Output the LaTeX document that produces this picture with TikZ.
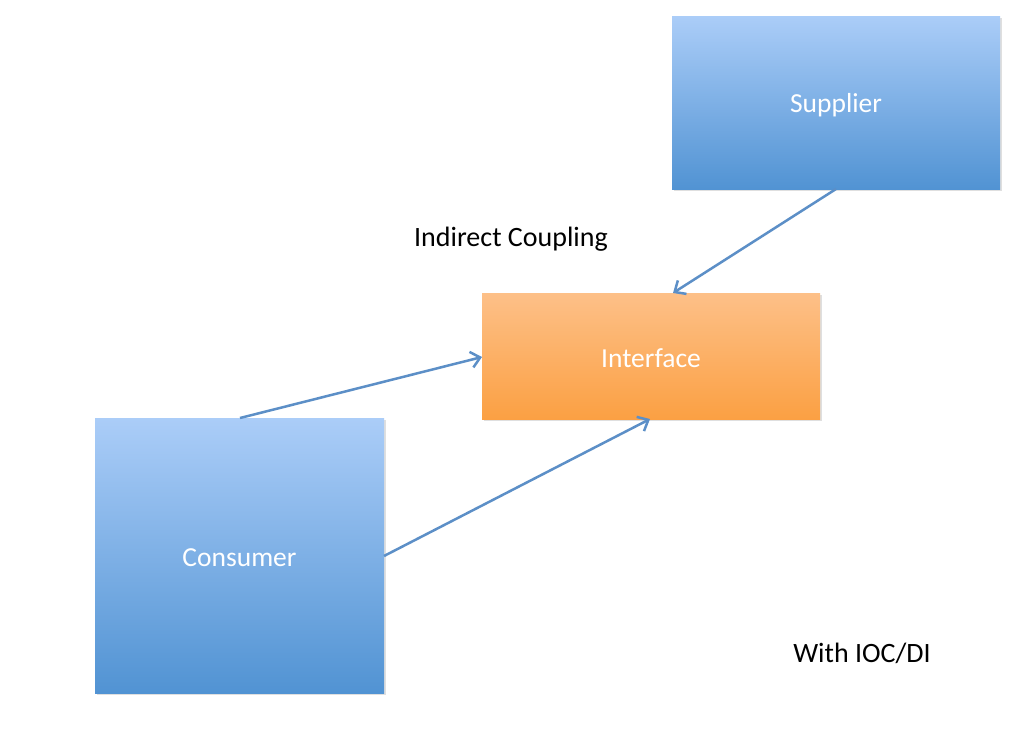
\documentclass[tikz,border=0pt]{standalone}
\usepackage{fontspec}
\setmainfont{Carlito}
\usetikzlibrary{arrows.meta,shadows}
\begin{document}
\begin{tikzpicture}[x=1pt,y=-1pt,
  bluebox/.style={draw=none,top color=bluetop,bottom color=bluebot,
    drop shadow={shadow xshift=1.5pt,shadow yshift=-2pt,opacity=0.25}},
  orangebox/.style={draw=none,top color=orangetop,bottom color=orangebot,
    drop shadow={shadow xshift=1.5pt,shadow yshift=-2pt,opacity=0.25}},
  boxtext/.style={text=white,font=\fontsize{27.5}{32}\selectfont},
  conn/.style={draw=linecol,line width=2.5pt,-{Straight Barb[length=9pt,width=16pt,line width=2.5pt]}},
  lbl/.style={text=black,font=\fontsize{28}{33}\selectfont}]
\definecolor{bluetop}{HTML}{ABCDF8}
\definecolor{bluebot}{HTML}{5193D3}
\definecolor{orangetop}{HTML}{FDC088}
\definecolor{orangebot}{HTML}{FBA043}
\definecolor{linecol}{HTML}{5C8FC7}
\useasboundingbox[fill=white] (0,0) rectangle (1024,745);
\path[bluebox] (672,16) rectangle (1000,189);
\node[boxtext] (sup) at (836,105) {Supplier};
\coordinate (supB) at (836,189);
\path[orangebox] (482,293) rectangle (820,419);
\node[boxtext] (int) at (651,358) {Interface};
\coordinate (intT) at (673,293);
\coordinate (intL) at (482,357);
\coordinate (intB) at (650,419);
\path[bluebox] (95,418) rectangle (384,693);
\node[boxtext] (con) at (239.5,558) {Consumer};
\coordinate (conT) at (240,418);
\coordinate (conR) at (384,556);
\node[lbl] (ic) at (511,239) {Indirect Coupling};
\node[lbl] (ioc) at (862,653) {With IOC/DI};
\draw[conn] (supB) -- (intT);
\draw[conn] (conT) -- (intL);
\draw[conn] (conR) -- (intB);
\end{tikzpicture}
\end{document}
